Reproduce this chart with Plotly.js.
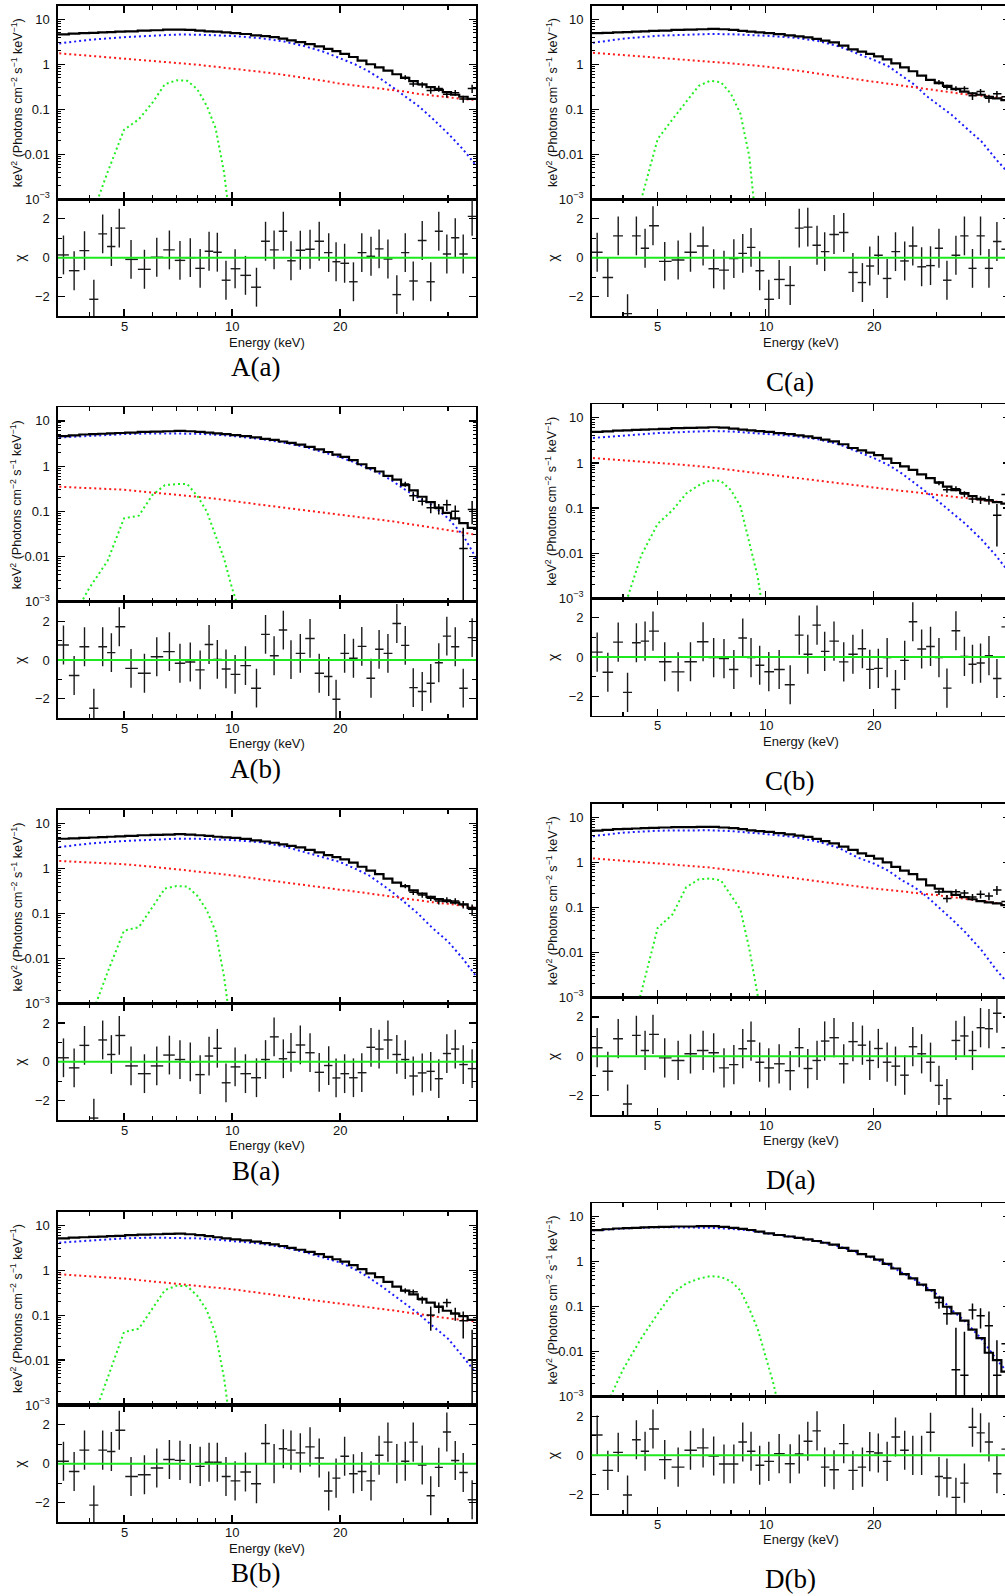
<!DOCTYPE html>
<html><head><meta charset="utf-8">
<script src="https://cdn.plot.ly/plotly-3.0.1.min.js"></script>
<style>
html,body{margin:0;padding:0;overflow:hidden;background:#fff;width:1005px;height:1596px}
#chart{width:1012px;height:1596px}
</style>
</head><body><div id="chart"></div>
<script>
// ---------------- DATA ----------------
// bin centre energies (keV), shared by all spectra
const energy = [3.39,3.63,3.88,4.12,4.36,4.61,4.85,5.23,5.70,6.17,6.69,7.16,7.65,8.15,8.63,9.10,9.62,10.2,10.9,11.7,12.4,13.1,13.9,14.6,15.5,16.5,17.5,18.6,19.5,20.6,21.8,23.0,24.4,25.7,27.2,28.8,30.4,32.0,33.9,35.8,37.7,39.7,41.9,44.1,46.7];
// energies where the continuum components are sampled
const compE = [3.3,4,5,6,7,8,9,10,12,14,16,18,20,22,24,26,28,30,33,36,40,44,48];
// energies where the iron line component is sampled
const lineE = [3.5,4.0,4.5,5.0,5.5,6.0,6.5,7.0,7.5,8.0,8.5,9.0,9.5,10.0,10.5,11.0];
const TAIL_START = 36; // first bin whose data cross is visible above the model

const xTickVals = [5,10,20];
const xTickText = ['5','10','20'];
const xMinorVals = [4,6,7,8,9,30,40];
const yTopTickVals = [0.001,0.01,0.1,1,10];
const yTopTickText = ['10<sup>−3</sup>','0.01','0.1','1','10'];
const yResTickVals = [-2,0,2];
const yResTickText = ['−2','0','2'];

// ---- A(a)
const aa_model = [4.6,4.8,4.9,5.0,5.1,5.2,5.3,5.4,5.6,5.7,5.9,5.9,5.8,5.6,5.4,5.3,5.1,4.9,4.7,4.4,4.2,4.0,3.7,3.4,3.1,2.8,2.5,2.2,1.95,1.7,1.45,1.2,1.0,0.85,0.72,0.6,0.5,0.42,0.36,0.31,0.27,0.24,0.21,0.19,0.17];
const aa_blue = [2.9,3.5,4.0,4.35,4.56,4.55,4.45,4.26,3.8,3.2,2.5,1.9,1.36,1.0,0.7,0.47,0.31,0.21,0.12,0.065,0.029,0.013,0.0055];
const aa_red = [1.75,1.55,1.36,1.2,1.09,0.98,0.88,0.81,0.68,0.58,0.5,0.43,0.37,0.34,0.31,0.29,0.27,0.25,0.22,0.2,0.185,0.17,0.16];
const aa_green = [0.00002,0.0003,0.004,0.035,0.06,0.14,0.36,0.44,0.43,0.28,0.12,0.038,0.004,0.0003,0.00001,0.0000003];
const aa_chi = [0.14,-0.67,0.36,-2.14,1.22,0.57,1.52,-0.09,-0.6,0.02,0.4,-0.14,0.0,-0.55,0.33,0.28,-1.16,-0.57,-0.91,-1.52,0.84,0.4,1.36,-0.16,0.38,0.43,0.84,0.26,-0.21,-0.29,-1.24,0.26,0.07,0.45,-0.07,-1.9,0.26,-1.2,0.88,-1.24,1.36,0.19,1.02,0.19,2.12];
const aa_tail = [0.51,0.366,0.35,0.26,0.29,0.215,0.234,0.17,0.29];
const aa_tailErr = [0.06,0.05,0.05,0.04,0.045,0.035,0.035,0.03,0.06];

// ---- A(b)
const ab_model = [4.6,4.8,5.0,5.1,5.2,5.3,5.4,5.5,5.7,5.8,5.9,6.0,5.9,5.7,5.5,5.3,5.1,4.85,4.6,4.3,4.0,3.8,3.5,3.25,3.0,2.65,2.35,2.05,1.8,1.6,1.35,1.1,0.9,0.76,0.61,0.5,0.38,0.29,0.21,0.16,0.12,0.092,0.07,0.055,0.043];
const ab_blue = [4.3,4.7,5.1,5.3,5.3,5.2,4.95,4.65,4.0,3.3,2.65,2.05,1.58,1.2,0.9,0.67,0.47,0.32,0.2,0.14,0.07,0.03,0.009];
const ab_red = [0.35,0.33,0.30,0.26,0.235,0.21,0.19,0.172,0.14,0.12,0.105,0.093,0.084,0.077,0.071,0.066,0.06,0.055,0.049,0.044,0.039,0.034,0.03];
const ab_green = [0.0003,0.002,0.008,0.07,0.08,0.23,0.38,0.40,0.40,0.22,0.10,0.03,0.009,0.002,0.0006,0.0001];
const ab_chi = [0.77,-0.80,0.68,-2.48,0.68,0.38,1.71,-0.43,-0.68,0.17,0.43,-0.17,-0.10,-0.51,0.80,0.03,-0.46,-0.74,-0.29,-1.45,1.32,0.22,1.54,0.02,0.34,1.11,-0.68,-0.85,-2.02,0.34,0.09,0.70,-0.94,0.55,0.34,1.88,0.75,-1.42,-1.62,-1.20,-0.14,1.23,0.68,-1.45,1.15];
const ab_tail = [0.40,0.22,0.167,0.12,0.115,0.14,0.10,0.015,0.11];
const ab_tailErr = [0.05,0.05,0.033,0.03,0.03,0.039,0.035,0.028,0.058];

// ---- B(a)
const ba_model = [4.6,4.7,4.8,4.9,5.0,5.1,5.2,5.3,5.5,5.6,5.7,5.8,5.7,5.5,5.3,5.1,4.95,4.8,4.55,4.25,4.0,3.75,3.45,3.2,2.95,2.6,2.3,2.0,1.8,1.6,1.35,1.1,0.9,0.75,0.6,0.49,0.41,0.33,0.28,0.235,0.21,0.19,0.175,0.16,0.134];
const ba_blue = [3.0,3.6,4.1,4.4,4.6,4.6,4.45,4.3,3.85,3.1,2.3,1.8,1.4,1.0,0.72,0.46,0.3,0.19,0.1,0.05,0.024,0.01,0.004];
const ba_red = [1.48,1.38,1.25,1.1,0.97,0.87,0.78,0.71,0.58,0.49,0.42,0.38,0.34,0.31,0.28,0.26,0.235,0.215,0.195,0.18,0.165,0.15,0.135];
const ba_green = [0.00005,0.0004,0.005,0.042,0.05,0.14,0.36,0.41,0.40,0.25,0.12,0.04,0.004,0.0002,0.00001,0.0000003];
const ba_chi = [0.21,-0.31,0.85,-2.9,1.13,0.38,1.36,-0.21,-0.61,-0.21,0.35,0.12,0.0,-0.66,0.30,0.70,-1.08,-0.26,-0.61,-0.82,0.12,1.29,0.16,0.49,0.87,0.47,-0.54,-0.19,-0.83,-0.61,-0.82,-0.56,0.75,0.66,1.13,0.38,0.12,-0.73,-0.57,-0.49,-0.87,0.43,0.66,-0.14,-0.35];
const ba_tail = [0.41,0.30,0.26,0.22,0.19,0.20,0.19,0.16,0.125];
const ba_tailErr = [0.045,0.04,0.035,0.03,0.03,0.03,0.03,0.03,0.035];

// ---- B(b)
const bb_model = [5.1,5.3,5.4,5.5,5.6,5.7,5.8,6.0,6.2,6.3,6.4,6.5,6.3,6.0,5.7,5.4,5.1,4.85,4.6,4.3,4.0,3.75,3.45,3.15,2.85,2.55,2.27,1.98,1.75,1.55,1.3,1.05,0.85,0.7,0.55,0.43,0.35,0.29,0.23,0.19,0.155,0.125,0.108,0.095,0.078];
const bb_blue = [4.1,4.6,5.1,5.3,5.3,5.1,4.8,4.5,3.9,3.2,2.5,1.9,1.48,1.05,0.7,0.45,0.29,0.19,0.11,0.06,0.03,0.012,0.005];
const bb_red = [0.81,0.74,0.65,0.56,0.5,0.45,0.41,0.377,0.31,0.26,0.225,0.2,0.18,0.165,0.15,0.14,0.128,0.118,0.105,0.095,0.085,0.078,0.072];
const bb_green = [0.00003,0.0003,0.004,0.042,0.05,0.14,0.36,0.45,0.44,0.27,0.13,0.038,0.004,0.0002,0.00001,0.0000003];
const bb_chi = [0.12,-0.40,0.69,-2.12,0.69,0.62,1.71,-0.66,-0.57,-0.22,0.21,0.17,0.0,-0.14,0.07,0.07,-0.66,-0.88,-0.43,-1.03,1.03,0.0,0.76,0.69,0.55,0.86,0.29,-1.40,-0.74,0.38,-0.52,-0.40,-0.88,0.43,1.10,0.0,0.12,1.10,-0.07,-1.64,-0.19,1.62,0.16,-0.45,-1.85];
const bb_tail = [0.35,0.33,0.22,0.10,0.15,0.19,0.11,0.075,0.01];
const bb_tailErr = [0.045,0.04,0.04,0.055,0.04,0.04,0.035,0.045,0.037];

// ---- C(a)
const ca_model = [4.9,5.0,5.1,5.2,5.3,5.4,5.5,5.6,5.8,5.9,6.0,6.1,6.0,5.8,5.5,5.3,5.1,4.9,4.65,4.4,4.15,3.95,3.65,3.35,3.05,2.6,2.15,1.9,1.7,1.5,1.28,1.05,0.85,0.7,0.56,0.45,0.38,0.33,0.28,0.247,0.225,0.21,0.19,0.175,0.16];
const ca_blue = [3.0,3.7,4.3,4.6,4.7,4.65,4.5,4.3,3.9,3.3,2.5,1.75,1.25,0.9,0.55,0.35,0.2,0.13,0.075,0.04,0.019,0.0075,0.0035];
const ca_red = [1.8,1.6,1.43,1.27,1.15,1.05,0.96,0.89,0.74,0.63,0.53,0.46,0.41,0.37,0.33,0.31,0.28,0.26,0.235,0.215,0.2,0.185,0.17];
const ca_green = [0.000001,0.00002,0.001,0.022,0.06,0.15,0.33,0.43,0.40,0.22,0.08,0.009,0.0003,0.000005,0.0000001,0.000000001];
const ca_chi = [0.28,-1.02,1.12,-2.88,1.12,0.48,1.64,-0.19,-0.12,0.28,0.60,-0.57,-0.64,-0.05,0.22,0.53,-0.67,-2.14,-1.12,-1.43,1.52,1.57,0.64,0.31,1.19,1.29,-0.76,-1.28,-0.43,0.12,-1.07,0.31,-0.17,0.60,-0.47,-0.41,0.48,-1.16,0.12,1.12,-0.55,1.12,-0.55,0.83,0.43];
const ca_tail = [0.40,0.31,0.29,0.29,0.20,0.247,0.175,0.22,0.19];
const ca_tailErr = [0.045,0.04,0.035,0.035,0.04,0.035,0.035,0.035,0.035];

// ---- C(b)
const cb_model = [4.9,5.0,5.2,5.3,5.4,5.5,5.6,5.7,5.9,6.0,6.1,6.2,6.1,5.8,5.5,5.3,5.1,4.9,4.6,4.35,4.1,3.9,3.6,3.3,3.0,2.6,2.15,1.9,1.7,1.5,1.25,1.0,0.84,0.7,0.56,0.46,0.37,0.3,0.25,0.215,0.185,0.161,0.148,0.136,0.125];
const cb_blue = [3.6,4.1,4.6,4.9,5.1,5.0,4.75,4.4,3.95,3.35,2.6,1.8,1.29,0.9,0.58,0.36,0.23,0.15,0.08,0.045,0.02,0.0085,0.0035];
const cb_red = [1.29,1.16,1.03,0.9,0.8,0.7,0.63,0.57,0.47,0.4,0.35,0.31,0.278,0.26,0.24,0.225,0.21,0.198,0.18,0.165,0.15,0.14,0.128];
const cb_green = [0.00003,0.0005,0.009,0.045,0.09,0.21,0.32,0.41,0.40,0.25,0.11,0.018,0.003,0.0002,0.00001,0.0000003];
const cb_chi = [0.25,-0.78,0.76,-1.81,0.73,0.81,1.32,-0.24,-0.76,-0.24,0.78,-0.03,-0.08,-0.64,0.97,-0.03,-0.42,-0.75,-0.64,-1.42,1.12,0.14,1.63,0.29,0.81,-0.25,0.14,0.42,-0.63,-0.58,-0.03,-1.66,-0.17,1.80,0.41,0.54,-0.03,-1.59,1.34,0.03,-0.37,-0.31,0.07,-1.10,1.54];
const cb_tail = [0.36,0.255,0.27,0.205,0.16,0.153,0.153,0.069,0.2];
const cb_tailErr = [0.04,0.035,0.035,0.03,0.03,0.03,0.035,0.055,0.05];

// ---- D(a)
const da_model = [5.1,5.3,5.5,5.6,5.7,5.8,5.9,6.0,6.1,6.1,6.2,6.2,6.0,5.8,5.5,5.2,5.0,4.8,4.5,4.2,3.95,3.7,3.35,3.0,2.65,2.25,1.9,1.6,1.4,1.22,1.0,0.8,0.66,0.55,0.42,0.31,0.26,0.223,0.19,0.17,0.152,0.138,0.13,0.123,0.113];
const da_blue = [3.85,4.6,5.1,5.25,5.2,5.0,4.65,4.3,3.7,2.9,2.1,1.3,0.95,0.65,0.4,0.28,0.18,0.11,0.055,0.028,0.011,0.004,0.0018];
const da_red = [1.23,1.08,0.95,0.85,0.77,0.68,0.61,0.55,0.45,0.38,0.33,0.29,0.264,0.245,0.225,0.21,0.198,0.188,0.17,0.155,0.14,0.125,0.11];
const da_green = [0.000003,0.00005,0.0013,0.035,0.07,0.28,0.42,0.44,0.40,0.19,0.09,0.012,0.0011,0.00003,0.000001,0.00000001];
const da_chi = [0.43,-0.77,0.89,-2.44,1.06,0.29,1.11,-0.09,-0.22,0.12,0.29,0.17,-0.60,-0.43,0.38,0.77,-0.31,-0.60,-0.39,-0.74,0.43,-0.63,-0.22,0.77,0.94,-0.39,0.74,0.56,-0.22,0.39,-0.31,-0.51,-0.97,0.48,0.12,-0.31,-1.49,-2.17,0.80,1.03,0.29,1.45,1.40,2.19,0.43];
const da_tail = [0.22,0.158,0.223,0.21,0.17,0.197,0.18,0.243,0.135];
const da_tailErr = [0.03,0.03,0.03,0.035,0.03,0.04,0.035,0.055,0.05];

// ---- D(b)  (no power-law component)
const db_model = [5.06,5.3,5.5,5.6,5.7,5.8,5.9,6.0,6.1,6.1,6.2,6.2,6.0,5.7,5.4,5.1,4.7,4.3,3.95,3.65,3.4,3.15,2.9,2.65,2.4,2.05,1.75,1.48,1.3,1.12,0.9,0.71,0.53,0.43,0.31,0.235,0.16,0.1,0.071,0.049,0.031,0.02,0.0095,0.0065,0.0036];
const db_blue = [5.0,5.5,5.9,5.8,5.7,5.4,5.0,4.3,3.55,2.85,2.2,1.6,1.2,0.85,0.58,0.4,0.27,0.19,0.085,0.047,0.019,0.0067,0.003];
const db_green = [0.0004,0.004,0.02,0.07,0.2,0.33,0.42,0.48,0.46,0.37,0.23,0.09,0.032,0.008,0.002,0.0004];
const db_chi = [1.04,-0.77,0.15,-2.03,0.80,0.21,1.35,-0.22,-0.60,0.26,0.38,-0.03,-0.44,-0.44,0.68,0.21,-0.51,-0.31,0.09,-0.43,0.07,0.72,1.25,-0.60,-0.74,0.60,-0.77,-0.60,0.19,0.12,-0.31,0.94,0.26,0.0,0.0,1.18,-1.08,-1.16,-2.15,-1.42,1.44,1.15,0.68,-0.94,0.32];
const db_tail = [0.125,0.07,0.004,0.003,0.085,0.063,0.038,0.003,0.015];
const db_tailErr = [0.035,0.03,0.03,0.025,0.033,0.03,0.04,0.015,0.02];

const panelLabels = ['A(a)','A(b)','B(a)','B(b)','C(a)','C(b)','D(a)','D(b)'];
const panels = [
  {model:aa_model, blue:aa_blue, red:aa_red, green:aa_green, chi:aa_chi, tail:aa_tail, tailErr:aa_tailErr},
  {model:ab_model, blue:ab_blue, red:ab_red, green:ab_green, chi:ab_chi, tail:ab_tail, tailErr:ab_tailErr},
  {model:ba_model, blue:ba_blue, red:ba_red, green:ba_green, chi:ba_chi, tail:ba_tail, tailErr:ba_tailErr},
  {model:bb_model, blue:bb_blue, red:bb_red, green:bb_green, chi:bb_chi, tail:bb_tail, tailErr:bb_tailErr},
  {model:ca_model, blue:ca_blue, red:ca_red, green:ca_green, chi:ca_chi, tail:ca_tail, tailErr:ca_tailErr},
  {model:cb_model, blue:cb_blue, red:cb_red, green:cb_green, chi:cb_chi, tail:cb_tail, tailErr:cb_tailErr},
  {model:da_model, blue:da_blue, red:da_red, green:da_green, chi:da_chi, tail:da_tail, tailErr:da_tailErr},
  {model:db_model, blue:db_blue, red:null, green:db_green, chi:db_chi, tail:db_tail, tailErr:db_tailErr}
];

// ---------------- LAYOUT GEOMETRY (pixels) ----------------
const W = 1012, H = 1596;
const geom = [
  {col:0, top:5.7,    split:199.3,  bottom:316,    energyY:341.7,  capY:367},
  {col:0, top:407.3,  split:601.7,  bottom:718.3,  energyY:743,    capY:769},
  {col:0, top:810,    split:1003.7, bottom:1120,   energyY:1145,   capY:1171},
  {col:0, top:1211.7, split:1405,   bottom:1522.3, energyY:1548.3, capY:1573},
  {col:1, top:5.7,    split:199.3,  bottom:316,    energyY:341.7,  capY:382},
  {col:1, top:404.3,  split:598.3,  bottom:715.7,  energyY:741,    capY:781},
  {col:1, top:804,    split:997.3,  bottom:1115,   energyY:1140,   capY:1180},
  {col:1, top:1203.3, split:1396.7, bottom:1514,   energyY:1539.3, capY:1579}
];
const colX = [[58,476],[591.7,1009.7]];
const yTitleX = [16.7, 551.5];
const chiX = [20, 553];
const capX = [256, 790];

const XR = [Math.log10(3.273), Math.log10(47.87)];
const YR = [-3, Math.log10(20)];

const FONT = 'Liberation Sans, Arial, Helvetica, sans-serif';
const C_BLUE = '#1a1aff', C_RED = '#ff1a1a', C_GREEN = '#22ee22', C_ZERO = '#1ee81e';
const DOTS = '2px,3px';

// bin edges from centres
const N = energy.length;
const edges = [energy[0] - (energy[1]-energy[0])/2];
for (let i = 1; i < N; i++) edges.push((energy[i-1]+energy[i])/2);
edges.push(energy[N-1] + (energy[N-1]-energy[N-2])/2);
const plusW = energy.map((e,i) => edges[i+1]-e);
const minusW = energy.map((e,i) => e-edges[i]);
const stepX = [edges[0]].concat(energy, [edges[N]]);

const yMinor = [];
for (let d = -3; d <= 1; d++) for (let k = 2; k <= 9; k++) { const v = k*Math.pow(10,d); if (v < 20) yMinor.push(v); }

const an = n => (n === 1 ? '' : String(n));
const traces = [], shapes = [], annotations = [];
const layout = {
  width: W, height: H, margin:{l:0,r:0,t:0,b:0},
  paper_bgcolor:'#fff', plot_bgcolor:'#fff', showlegend:false,
  font:{family:FONT, color:'#111', size:13}
};

const commonAx = {
  showline:true, linewidth:1.6, linecolor:'#000', mirror:'allticks',
  ticks:'inside', tickcolor:'#000', tickwidth:1.2, showgrid:false, zeroline:false, fixedrange:true,
  tickfont:{family:FONT, size:13, color:'#111'}
};

panels.forEach((p, i) => {
  const g = geom[i];
  const [x0, x1] = colX[g.col];
  const nT = 2*i+1, nB = 2*i+2;
  const xT = 'x'+an(nT), yT = 'y'+an(nT), xB = 'x'+an(nB), yB = 'y'+an(nB);
  const xd = [x0/W, x1/W];

  layout['xaxis'+an(nT)] = Object.assign({}, commonAx, {
    domain:xd, anchor:yT, type:'log', range:XR, tickvals:xTickVals, ticktext:xTickText,
    ticklen:7, showticklabels:false,
    minor:{tickvals:xMinorVals, ticks:'inside', ticklen:4, tickcolor:'#000', tickwidth:1.2}
  });
  layout['yaxis'+an(nT)] = Object.assign({}, commonAx, {
    domain:[1-g.split/H, 1-g.top/H], anchor:xT, type:'log', range:YR,
    tickvals:yTopTickVals, ticktext:yTopTickText, ticklen:7, ticklabelstandoff:4,
    minor:{tickvals:yMinor, ticks:'inside', ticklen:3, tickcolor:'#000', tickwidth:1}
  });
  layout['xaxis'+an(nB)] = Object.assign({}, commonAx, {
    domain:xd, anchor:yB, type:'log', range:XR, tickvals:xTickVals, ticktext:xTickText,
    ticklen:7, showticklabels:false,
    minor:{tickvals:xMinorVals, ticks:'inside', ticklen:4, tickcolor:'#000', tickwidth:1.2}
  });
  layout['yaxis'+an(nB)] = Object.assign({}, commonAx, {
    domain:[1-g.bottom/H, 1-g.split/H], anchor:xB, range:[-3,3],
    tickvals:yResTickVals, ticktext:yResTickText, ticklen:7, ticklabelstandoff:4,
    minor:{tickvals:[-1,1], ticks:'inside', ticklen:4, tickcolor:'#000', tickwidth:1}
  });

  // model components
  traces.push({x:compE, y:p.blue, xaxis:xT, yaxis:yT, mode:'lines', hoverinfo:'skip',
    line:{color:C_BLUE, width:2, dash:DOTS}});
  if (p.red) traces.push({x:compE, y:p.red, xaxis:xT, yaxis:yT, mode:'lines', hoverinfo:'skip',
    line:{color:C_RED, width:2, dash:DOTS}});
  traces.push({x:lineE, y:p.green, xaxis:xT, yaxis:yT, mode:'lines', hoverinfo:'skip',
    line:{color:C_GREEN, width:2, dash:DOTS}});
  // total model histogram
  traces.push({x:stepX, y:[p.model[0]].concat(p.model, [p.model[N-1]]), xaxis:xT, yaxis:yT,
    mode:'lines', hoverinfo:'skip', line:{color:'#000', width:2.2, shape:'hvh'}});
  // visible data crosses at high energy
  traces.push({x:energy.slice(TAIL_START), y:p.tail, xaxis:xT, yaxis:yT, mode:'markers', hoverinfo:'skip',
    marker:{size:1, color:'rgba(0,0,0,0)'},
    error_y:{type:'data', array:p.tailErr, width:0, thickness:1.5, color:'#000'},
    error_x:{type:'data', array:plusW.slice(TAIL_START), arrayminus:minusW.slice(TAIL_START), width:0, thickness:1.5, color:'#000'}});
  // residuals
  traces.push({x:energy, y:p.chi, xaxis:xB, yaxis:yB, mode:'markers', hoverinfo:'skip',
    marker:{size:1, color:'rgba(0,0,0,0)'},
    error_y:{type:'constant', value:1, width:0, thickness:1.4, color:'#1a1a1a'},
    error_x:{type:'data', array:plusW, arrayminus:minusW, width:0, thickness:1.4, color:'#1a1a1a'}});

  shapes.push({type:'line', xref:xB+' domain', x0:0, x1:1, yref:yB, y0:0, y1:0,
    line:{color:C_ZERO, width:2}, layer:'above'});

  // x tick labels below the residual panel
  xTickVals.forEach((v, k) => annotations.push({xref:xB, yref:'paper', x:Math.log10(v), y:1-(g.bottom+10)/H,
    xanchor:'center', yanchor:'middle', showarrow:false, text:xTickText[k],
    font:{family:FONT, size:13, color:'#111'}}));

  // texts
  annotations.push({xref:'paper', yref:'paper', x:yTitleX[g.col]/W, y:1-((g.top+g.split)/2)/H,
    xanchor:'center', yanchor:'middle', textangle:-90, showarrow:false,
    text:'keV<sup>2</sup> (Photons cm<sup>−2</sup> s<sup>−1</sup> keV<sup>−1</sup>)',
    font:{family:FONT, size:12.5, color:'#111'}});
  annotations.push({xref:'paper', yref:'paper', x:chiX[g.col]/W, y:1-((g.split+g.bottom)/2)/H,
    xanchor:'center', yanchor:'middle', textangle:-90, showarrow:false, text:'χ',
    font:{family:FONT, size:14, color:'#111'}});
  annotations.push({xref:'paper', yref:'paper', x:((x0+x1)/2)/W, y:1-(g.energyY+0.5)/H,
    xanchor:'center', yanchor:'middle', showarrow:false, text:'Energy (keV)',
    font:{family:FONT, size:13, color:'#111'}});
  annotations.push({xref:'paper', yref:'paper', x:capX[g.col]/W, y:1-g.capY/H,
    xanchor:'center', yanchor:'middle', showarrow:false, text:panelLabels[i],
    font:{family:'Liberation Serif, Times New Roman, serif', size:27, color:'#000'}});
});

layout.shapes = shapes;
layout.annotations = annotations;

Plotly.newPlot('chart', traces, layout, {staticPlot:true, displayModeBar:false});
</script>
</body></html>
